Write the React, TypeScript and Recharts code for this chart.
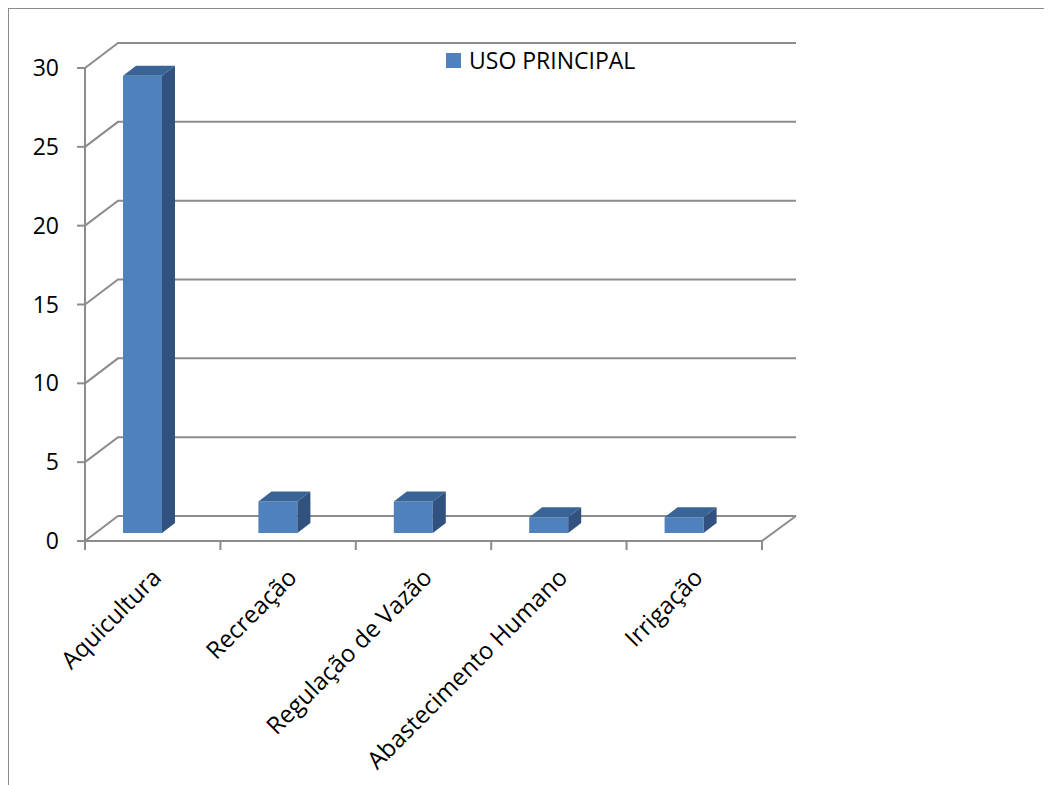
import React from 'react';
import { BarChart, Bar, XAxis, YAxis, CartesianGrid } from 'recharts';

const categories = ['Aquicultura', 'Recreação', 'Regulação de Vazão', 'Abastecimento Humano', 'Irrigação'];
const usoPrincipal = [29, 2, 2, 1, 1];
const yTicks = [0, 5, 10, 15, 20, 25, 30];

const data = categories.map((name, i) => ({ name, value: usoPrincipal[i] }));

const W = 1052;
const H = 785;
const PLOT_LEFT = 85;
const PLOT_RIGHT = 762;
const PLOT_TOP = 68;
const PLOT_BOTTOM = 541;
const DEPTH_X = 33;
const DEPTH_Y = 25;
const GRID = '#8c8c8c';
const FONT = '"Open Sans", sans-serif';

const FRONT = '#4F81BD';
const TOP = '#3B6496';
const SIDE = '#31527E';

const band = (PLOT_RIGHT - PLOT_LEFT) / categories.length;

// back-wall gridline with the diagonal joining it to the front axis
function GridLine(props: any) {
  const { x1, y1, x2, index } = props;
  const isFloor = Math.abs(y1 - PLOT_BOTTOM) < 1;
  return (
    <g key={`g-${index}`}>
      <path
        d={`M${x1},${y1} L${x1 + DEPTH_X},${y1 - DEPTH_Y} L${x2 + DEPTH_X + 1},${y1 - DEPTH_Y}`}
        stroke={GRID}
        strokeWidth={2}
        fill="none"
      />
      {isFloor && (
        <path d={`M${x2},${y1} L${x2 + DEPTH_X + 1},${y1 - DEPTH_Y}`} stroke={GRID} strokeWidth={2} fill="none" />
      )}
    </g>
  );
}

function Box3D(props: any) {
  const { x, y, width, height } = props;
  if (!height) return null;
  const dx = 13;
  const dy = 10;
  const fx = x - 10;
  const fy = y - 8;
  const bottom = fy + height;
  return (
    <g>
      <rect x={fx} y={fy} width={width} height={height} fill={FRONT} />
      <path
        d={`M${fx},${fy} L${fx + width},${fy} L${fx + width + dx},${fy - dy} L${fx + dx},${fy - dy} Z`}
        fill={TOP}
      />
      <path
        d={`M${fx + width},${fy} L${fx + width + dx},${fy - dy} L${fx + width + dx},${bottom - dy} L${fx + width},${bottom} Z`}
        fill={SIDE}
      />
    </g>
  );
}

function XTick(props: any) {
  const { x, payload, index } = props;
  const left = x - band / 2;
  const right = x + band / 2;
  const ax = x + 10;
  const ay = PLOT_BOTTOM + 38;
  return (
    <g>
      <line x1={left} y1={PLOT_BOTTOM} x2={left} y2={PLOT_BOTTOM + 9} stroke={GRID} strokeWidth={2} />
      {index === categories.length - 1 && (
        <line x1={right} y1={PLOT_BOTTOM} x2={right} y2={PLOT_BOTTOM + 9} stroke={GRID} strokeWidth={2} />
      )}
      <text
        x={ax}
        y={ay}
        textAnchor="end"
        transform={`rotate(-45, ${ax}, ${ay})`}
        fontFamily={FONT}
        fontSize={24}
        fill="#000"
      >
        {payload.value}
      </text>
    </g>
  );
}

function YTick(props: any) {
  const { y, payload } = props;
  return (
    <text x={59} y={y} dy={8} textAnchor="end" fontFamily={FONT} fontSize={23} fill="#000">
      {payload.value}
    </text>
  );
}

export default function App() {
  return (
    <div style={{ marginLeft: -8, marginTop: -8, width: W, height: H, position: 'relative', background: '#fff' }}>
      <svg
        width={W}
        height={H}
        style={{ position: 'absolute', left: 0, top: 0, pointerEvents: 'none' }}
      >
        <path d={`M8,${H} L8,8 L${W},8`} stroke={GRID} strokeWidth={2} fill="none" />
      </svg>
      <BarChart
        width={W}
        height={H}
        data={data}
        margin={{ top: PLOT_TOP, left: PLOT_LEFT - 60, right: W - PLOT_RIGHT, bottom: H - PLOT_BOTTOM - 150 }}
        barSize={39}
      >
        <CartesianGrid vertical={false} horizontal={GridLine} />
        <XAxis
          dataKey="name"
          height={150}
          interval={0}
          tickLine={false}
          axisLine={{ stroke: GRID, strokeWidth: 2 }}
          tick={XTick}
        />
        <YAxis
          width={60}
          domain={[0, 30]}
          ticks={yTicks}
          interval={0}
          tickSize={8}
          tickLine={{ stroke: GRID, strokeWidth: 2 }}
          axisLine={{ stroke: GRID, strokeWidth: 2 }}
          tick={YTick}
        />
        <Bar dataKey="value" name="USO PRINCIPAL" shape={<Box3D />} isAnimationActive={false} />
      </BarChart>
      <div
        style={{
          position: 'absolute',
          left: 446,
          top: 44,
          display: 'flex',
          alignItems: 'center',
          fontFamily: FONT,
          fontSize: 23,
          color: '#000',
        }}
      >
        <span style={{ width: 15, height: 15, background: FRONT, marginRight: 8, display: 'inline-block' }} />
        <span>USO PRINCIPAL</span>
      </div>
    </div>
  );
}
